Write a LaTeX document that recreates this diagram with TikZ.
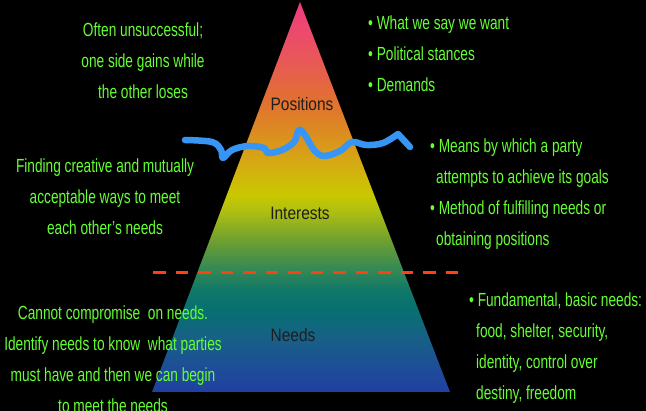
\documentclass[tikz,border=0pt]{standalone}
\usepackage{fontspec}
\setmainfont{Liberation Sans}
\newfontfamily\notefont{Liberation Sans}[FakeStretch=0.72]
\newfontfamily\layerfont{Liberation Sans}[FakeStretch=0.86]
\usetikzlibrary{positioning}
\definecolor{notegreen}{RGB}{102,255,51}
\definecolor{waveblue}{RGB}{55,150,245}
\definecolor{cutred}{RGB}{255,64,16}
\definecolor{layerink}{RGB}{30,30,30}
\definecolor{pyrA}{RGB}{32,64,160}
\definecolor{pyrB}{RGB}{30,76,152}
\definecolor{pyrC}{RGB}{24,95,136}
\definecolor{pyrD}{RGB}{8,112,112}
\definecolor{pyrE}{RGB}{16,120,104}
\definecolor{pyrF}{RGB}{60,140,80}
\definecolor{pyrG}{RGB}{112,160,48}
\definecolor{pyrH}{RGB}{176,192,16}
\definecolor{pyrI}{RGB}{200,200,0}
\definecolor{pyrJ}{RGB}{212,176,16}
\definecolor{pyrK}{RGB}{220,138,34}
\definecolor{pyrL}{RGB}{226,112,48}
\definecolor{pyrM}{RGB}{232,88,88}
\definecolor{pyrN}{RGB}{240,60,128}
\pgfdeclareverticalshading{pyramid}{100bp}{%
  color(0bp)=(pyrA); color(25bp)=(pyrA); color(27.8bp)=(pyrB);
  color(31.7bp)=(pyrC); color(35.5bp)=(pyrD); color(38.1bp)=(pyrE);
  color(41.3bp)=(pyrF); color(44.5bp)=(pyrG); color(48.3bp)=(pyrH);
  color(50.3bp)=(pyrI); color(53.5bp)=(pyrJ); color(58.6bp)=(pyrK);
  color(62.4bp)=(pyrL); color(67.6bp)=(pyrM); color(75bp)=(pyrN);
  color(100bp)=(pyrN)}
\tikzset{
  note/.style={text=notegreen,inner sep=0pt,
               font=\notefont\fontsize{19}{31}\selectfont},
  layer/.style={text=layerink,inner sep=0pt,
                font=\layerfont\fontsize{18}{22}\selectfont},
  wave/.style={waveblue,line width=6.5pt,line cap=round,line join=round},
  cutline/.style={cutred,line width=3pt,dash pattern=on 12.7pt off 9.8pt},
}
\begin{document}
\begin{tikzpicture}[x=1pt,y=-1pt]
  \fill[black] (0,0) rectangle (646,411);
  \useasboundingbox (0,0) rectangle (646,411);
  % pyramid
  \coordinate (apex) at (300,2);
  \coordinate (baseR) at (450,392);
  \coordinate (baseL) at (152,392);
  \path[shading=pyramid] (apex) -- (baseR) -- (baseL) -- cycle;
  % layer names
  \node[layer] (positions) at (302,104) {Positions};
  \node[layer] (interests) at (300,213) {Interests};
  \node[layer] (needs) at (293,335) {Needs};
  % blue wave between positions and interests
  \draw[wave] plot[smooth,tension=0.6] coordinates {(185,140) (212,142)
    (221,150) (223,158) (232,150) (248,146) (264,148) (268,153) (282,150)
    (294,142) (299,130) (305,135) (314,150) (324,156) (340,151) (352,142)
    (366,145) (383,143) (398,134)} -- (410,147);
  % red dashed line between interests and needs
  \coordinate (cutL) at (153,273);
  \coordinate (cutR) at (458,273);
  \draw[cutline] (cutL) -- (cutR);
  % notes on the left
  \node[note,align=center] (posnote) at (143,61)
    {Often unsuccessful;\\one side gains while\\the other loses};
  \node[note,align=center] (intnote) at (105,197)
    {Finding creative and mutually\\acceptable ways to meet\\each other’s needs};
  \node[note,align=center] (neednote) at (113,359)
    {Cannot compromise\ \ on needs.\\Identify needs to know\ \ what parties\\
     must have and then we can begin\\to meet the needs};
  % notes on the right
  \node[note,align=left,anchor=west] (positems) at (368,54)
    {• What we say we want\\• Political stances\\• Demands};
  \node[note,align=left,anchor=west] (intitems) at (430,194)
    {• Means by which a party\\\hspace*{6pt}attempts to achieve its goals\\
     • Method of fulfilling needs or\\\hspace*{6pt}obtaining positions};
  \node[note,align=left,anchor=west] (needitems) at (469,348)
    {• Fundamental, basic needs:\\\hspace*{7pt}food, shelter, security,\\
     \hspace*{7pt}identity, control over\\\hspace*{7pt}destiny, freedom};
\end{tikzpicture}
\end{document}
